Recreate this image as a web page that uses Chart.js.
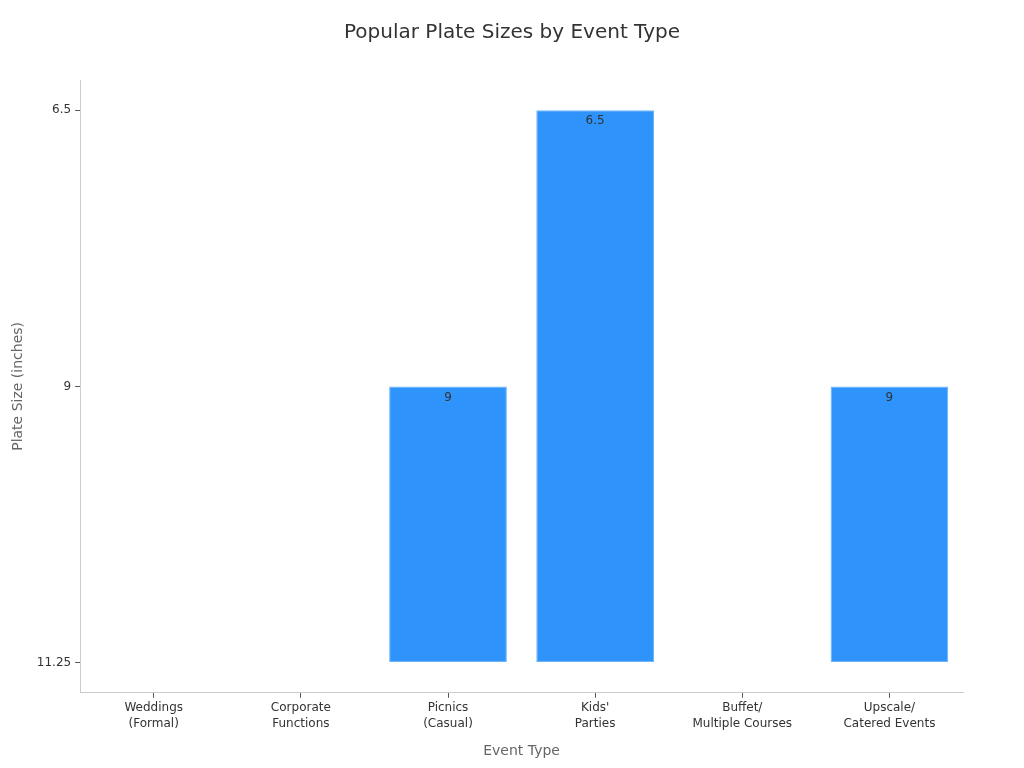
<!DOCTYPE html>
<html>
<head>
<meta charset="utf-8">
<script src="https://cdn.jsdelivr.net/npm/chart.js@4"></script>
<style>
  html, body { margin: 0; padding: 0; background: #fff; }
  #wrap { width: 1024px; height: 768px; }
</style>
</head>
<body>
<div id="wrap"><canvas id="plateChart"></canvas></div>
<script>
// categories and values
const eventTypes = [
    ['Weddings', '(Formal)'],
    ['Corporate', 'Functions'],
    ['Picnics', '(Casual)'],
    ["Kids'", 'Parties'],
    ['Buffet/', 'Multiple Courses'],
    ['Upscale/', 'Catered Events']
];
const plateSizes = [null, null, '9', '6.5', null, '9'];
// y axis is ordered by category, bottom to top
const sizeLabels = ['11.25', '9', '6.5'];
const chartTitle = 'Popular Plate Sizes by Event Type';

const barColor = '#2E93FA';
const textColor = '#333333';
const mutedText = '#666666';

Chart.defaults.font.family = "'DejaVu Sans', sans-serif";
Chart.defaults.color = textColor;

// title centred on the whole canvas, values written inside the top of each bar
const barLabels = {
    id: 'barLabels',
    afterDatasetsDraw(chart) {
        const ctx = chart.ctx;
        const meta = chart.getDatasetMeta(0);
        ctx.save();
        ctx.textAlign = 'center';
        ctx.textBaseline = 'middle';

        ctx.font = "20px 'DejaVu Sans', sans-serif";
        ctx.fillStyle = textColor;
        ctx.fillText(chartTitle, chart.width / 2, 33);

        ctx.font = "12px 'DejaVu Sans', sans-serif";
        meta.data.forEach((bar, i) => {
            if (plateSizes[i] === null) return;
            ctx.fillText(plateSizes[i], bar.x, bar.y + 11);
        });
        ctx.restore();
    }
};

new Chart(document.getElementById('plateChart'), {
    type: 'bar',
    data: {
        labels: eventTypes,
        datasets: [{
            label: 'Plate Size',
            data: plateSizes.map(v => v === null ? null : sizeLabels.indexOf(v)),
            backgroundColor: barColor,
            borderColor: '#6FB3F8',
            borderWidth: 1,
            borderSkipped: false,
            barPercentage: 0.8,
            categoryPercentage: 1.0
        }]
    },
    options: {
        responsive: true,
        maintainAspectRatio: false,
        animation: false,
        layout: { padding: { top: 80, right: 61, bottom: 4, left: 6 } },
        plugins: {
            legend: { display: false },
            tooltip: { enabled: false },
            title: { display: false }
        },
        scales: {
            x: {
                grid: { display: true, drawOnChartArea: false, offset: false, tickLength: 5, tickColor: '#555' },
                border: { display: true, color: '#cccccc' },
                ticks: { color: textColor, font: { size: 12, lineHeight: 1.35 }, maxRotation: 0, padding: 2 },
                title: { display: true, text: 'Event Type', color: mutedText, font: { size: 14 }, padding: { top: 9 } }
            },
            y: {
                type: 'linear',
                min: -0.11,
                max: 2.11,
                afterBuildTicks: scale => { scale.ticks = sizeLabels.map((_, i) => ({ value: i })); },
                grid: { display: true, drawOnChartArea: false, tickLength: 5, tickColor: '#555' },
                border: { display: true, color: '#cccccc' },
                ticks: { color: textColor, font: { size: 12 }, padding: 4, callback: v => sizeLabels[v] },
                title: { display: true, text: 'Plate Size (inches)', color: mutedText, font: { size: 14 }, padding: { bottom: 6 } }
            }
        }
    },
    plugins: [barLabels]
});
</script>
</body>
</html>
